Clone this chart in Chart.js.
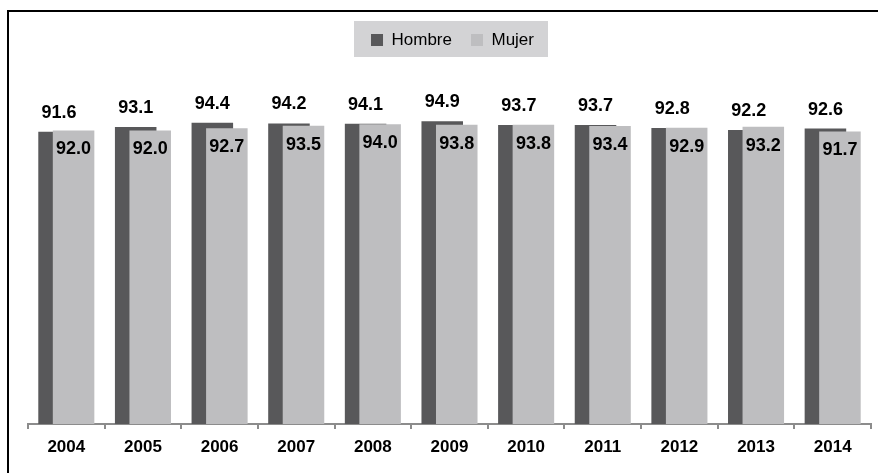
<!DOCTYPE html>
<html>
<head>
<meta charset="utf-8">
<script src="https://cdn.jsdelivr.net/npm/chart.js@4"></script>
<style>
  html, body { margin: 0; padding: 0; background: #fff; }
  #wrap { position: relative; width: 878px; height: 473px; }
</style>
</head>
<body>
<div id="wrap"><canvas id="chart" width="878" height="473"></canvas></div>
<script>
// ===== data =====
const years = ['2004', '2005', '2006', '2007', '2008', '2009', '2010', '2011', '2012', '2013', '2014'];
const hombre = [91.6, 93.1, 94.4, 94.2, 94.1, 94.9, 93.7, 93.7, 92.8, 92.2, 92.6];
const mujer = [92.0, 92.0, 92.7, 93.5, 94.0, 93.8, 93.8, 93.4, 92.9, 93.2, 91.7];

const FONT = "'Liberation Sans', Arial, sans-serif";

// frame (left + top line) and grey legend box
const backdrop = {
  id: 'backdrop',
  beforeInit(chart) {
    // extra room under the legend, and nudge the items a bit to the right
    const fit = chart.legend.fit;
    chart.legend.fit = function () {
      fit.bind(chart.legend)();
      this.height += 46.5;
      if (this.lineWidths) this.lineWidths[0] -= 6;
    };
  },
  beforeDraw(chart) {
    const ctx = chart.ctx;
    ctx.save();
    ctx.fillStyle = '#000';
    ctx.fillRect(7, 10, chart.width - 7, 2);
    ctx.fillRect(7, 10, 2, chart.height - 10);

    const boxes = chart.legend.legendHitBoxes;
    if (boxes && boxes.length) {
      const first = boxes[0], last = boxes[boxes.length - 1];
      ctx.fillStyle = '#d3d3d5';
      const x0 = first.left - 17;
      const x1 = last.left + last.width + 14;
      ctx.fillRect(x0, first.top - 10.5, x1 - x0, 36);
    }
    ctx.restore();
  }
};

// Mujer bars must sit on top of Hombre bars: hold them back, draw them after
const overlap = {
  id: 'overlap',
  beforeDatasetDraw(chart, args) {
    if (args.index === 1 && !chart.$drawingMujer) return false;
  },
  afterDatasetsDraw(chart) {
    chart.$drawingMujer = true;
    chart.getDatasetMeta(1).controller.draw();
    chart.$drawingMujer = false;

    // value labels: Hombre above its bar, Mujer just inside the top of its bar
    const ctx = chart.ctx;
    ctx.save();
    ctx.font = 'bold 18px ' + FONT;
    ctx.fillStyle = '#000';
    ctx.textAlign = 'center';
    ctx.textBaseline = 'middle';
    chart.data.datasets.forEach((ds, di) => {
      const meta = chart.getDatasetMeta(di);
      meta.data.forEach((bar, i) => {
        const y = di === 0 ? bar.y - 19 : bar.y + 19;
        ctx.fillText(ds.data[i].toFixed(1), bar.x, y);
      });
    });
    ctx.restore();
  }
};

new Chart(document.getElementById('chart').getContext('2d'), {
  type: 'bar',
  data: {
    labels: years,
    datasets: [
      {
        label: 'Hombre',
        data: hombre,
        backgroundColor: '#58585a',
        categoryPercentage: 0.379,
        barPercentage: 2.86
      },
      {
        label: 'Mujer',
        data: mujer,
        backgroundColor: '#bebec0',
        categoryPercentage: 0.379,
        barPercentage: 2.86
      }
    ]
  },
  options: {
    responsive: false,
    animation: false,
    devicePixelRatio: 1,
    layout: { padding: { top: 12.5, left: 28, right: 7, bottom: 7.6 } },
    plugins: {
      legend: {
        display: true,
        position: 'top',
        labels: {
          boxWidth: 12,
          boxHeight: 12,
          padding: 19,
          color: '#000',
          font: { family: FONT, size: 17 }
        }
      },
      tooltip: { enabled: false }
    },
    scales: {
      y: {
        display: false,
        min: 0,
        max: 100
      },
      x: {
        grid: {
          drawOnChartArea: false,
          drawTicks: true,
          tickLength: 5,
          color: '#8c8c8c',
          lineWidth: 2
        },
        border: { color: '#8c8c8c', width: 2 },
        ticks: {
          color: '#000',
          padding: 8,
          font: { family: FONT, size: 17, weight: 'bold' }
        }
      }
    }
  },
  plugins: [backdrop, overlap]
});
</script>
</body>
</html>
